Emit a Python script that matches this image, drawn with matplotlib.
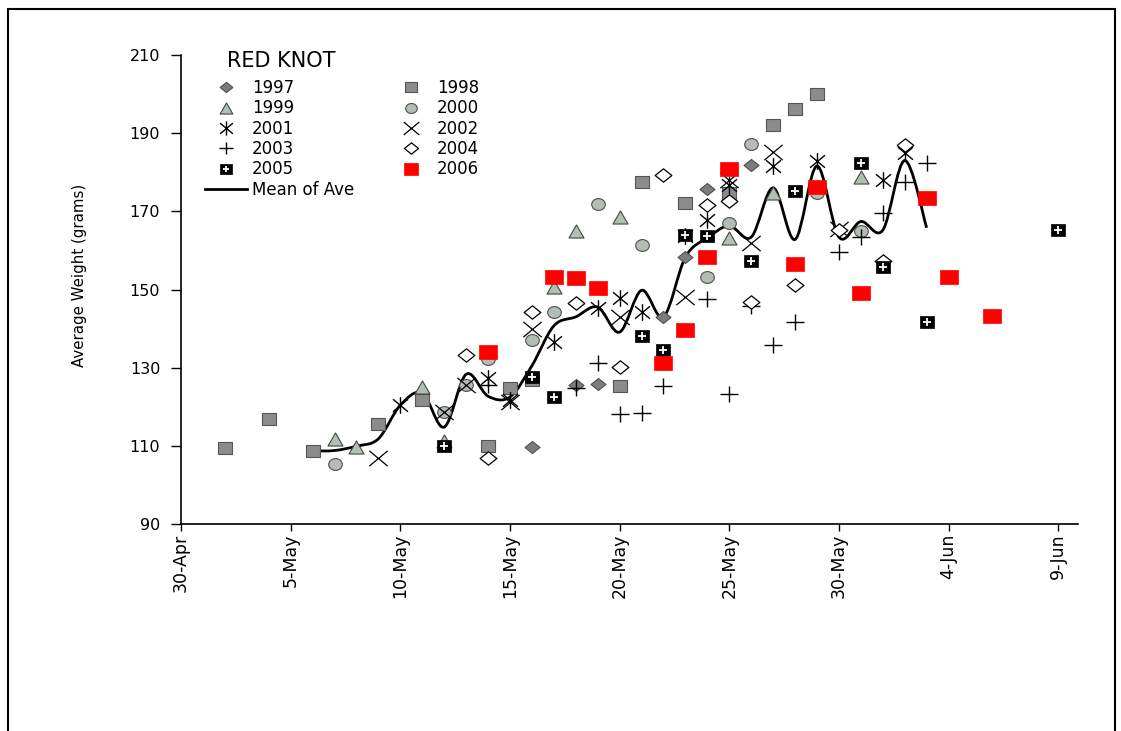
import numpy as np
import matplotlib
matplotlib.use("Agg")
import matplotlib.pyplot as plt
from matplotlib.path import Path
from matplotlib.patches import Rectangle, PathPatch
from matplotlib.legend_handler import HandlerTuple
from matplotlib.lines import Line2D

plt.rcParams['font.family'] = ['DejaVu Sans']

# ---- data: x = days after 30-Apr, y = average weight (grams) ----
day_1997 = [16, 18, 19, 22, 23, 24, 26]
wt_1997 = [109.7, 125.6, 125.7, 143.0, 158.3, 175.6, 181.9]

day_1998 = [2, 4, 6, 9, 11, 14, 15, 16, 20, 21, 23, 25, 27, 28, 29]
wt_1998 = [109.5, 116.9, 108.8, 115.6, 121.8, 110.0, 124.9, 126.8, 125.3, 177.5,
           172.1, 174.8, 192.1, 196.2, 200.0]

day_1999 = [7, 8, 11, 12, 17, 18, 20, 25, 27, 31]
wt_1999 = [111.7, 109.8, 125.1, 111.3, 150.6, 165.0, 168.6, 163.2, 174.8, 178.7]

day_2000 = [7, 12, 13, 14, 16, 17, 19, 21, 24, 25, 26, 29, 31]
wt_2000 = [105.4, 118.7, 125.6, 132.3, 137.0, 144.3, 171.9, 161.4, 153.2, 166.9,
           187.2, 174.8, 165.0]

day_2001 = [10, 14, 15, 17, 19, 20, 21, 23, 24, 25, 27, 29, 32, 33]
wt_2001 = [120.4, 127.4, 121.8, 136.5, 145.3, 147.9, 144.3, 163.6, 167.8, 176.7,
           181.5, 183.0, 178.1, 185.0]

day_2002 = [9, 12, 13, 15, 16, 20, 23, 25, 26, 27, 30]
wt_2002 = [106.9, 118.7, 125.6, 121.1, 139.8, 143.0, 148.1, 178.0, 161.9, 185.2, 165.5]

day_2003 = [14, 18, 19, 20, 21, 22, 24, 25, 26, 27, 28, 30, 31, 32, 33, 34]
wt_2003 = [125.6, 124.9, 131.1, 118.2, 118.3, 125.4, 147.6, 123.3, 145.8, 135.8,
           141.7, 159.6, 163.4, 169.7, 177.6, 182.4]

day_2004 = [13, 14, 16, 18, 20, 22, 24, 25, 26, 28, 30, 32, 33]
wt_2004 = [133.3, 107.0, 144.3, 146.6, 130.2, 179.2, 171.6, 172.6, 146.7, 151.2,
           165.2, 157.2, 187.0]

day_2005 = [12, 16, 17, 21, 22, 23, 24, 26, 28, 31, 32, 34, 40]
wt_2005 = [110.0, 127.7, 122.4, 138.2, 134.5, 163.9, 163.8, 157.3, 175.1, 182.4,
           155.8, 141.7, 165.2]

day_2006 = [14, 17, 18, 19, 22, 23, 24, 25, 28, 29, 31, 34, 35, 37]
wt_2006 = [134.0, 153.2, 152.9, 150.4, 131.1, 139.6, 158.3, 180.8, 156.6, 176.1,
           149.1, 173.3, 153.2, 143.2]

mean_days = list(range(6, 35))
mean_wt = [108.7, 108.8, 109.9, 111.8, 120.4, 123.5, 114.8, 128.3, 122.7, 122.5,
           130.5, 140.7, 143.0, 145.5, 139.1, 149.8, 143.0, 158.3, 163.2, 166.3,
           163.4, 176.0, 162.8, 181.6, 163.4, 167.4, 165.2, 183.0, 165.8]

tick_days = [0, 5, 10, 15, 20, 25, 30, 35, 40]
tick_labels = ['30-Apr', '5-May', '10-May', '15-May', '20-May', '25-May',
               '30-May', '4-Jun', '9-Jun']
y_ticks = [90, 110, 130, 150, 170, 190, 210]

# ---- marker shapes (slightly wider than tall, as in the original) ----
M, L, C = Path.MOVETO, Path.LINETO, Path.CLOSEPOLY

def poly(pts):
    v = np.array(list(pts) + [pts[0]], float)
    return Path(v, [M] + [L] * (len(pts) - 1) + [C])

def segs(pairs):
    v, c = [], []
    for a, b in pairs:
        v += [a, b]
        c += [M, L]
    return Path(np.array(v, float), c)

mk_diamond = poly([(0, 1), (1.25, 0), (0, -1), (-1.25, 0)])
mk_square = lambda r: poly([(-r, -1), (r, -1), (r, 1), (-r, 1)])
mk_tri = poly([(0, 1), (-1.15, -1), (1.15, -1)])
uc = Path.unit_circle()
mk_ell = Path(uc.vertices * np.array([1.15, 1.0]), uc.codes)
mk_ast = segs([((0, -1), (0, 1)), ((-0.9, -0.75), (0.9, 0.75)), ((-0.9, 0.75), (0.9, -0.75))])
mk_x = segs([((-1.2, -1), (1.2, 1)), ((-1.2, 1), (1.2, -1))])
mk_plus = segs([((-1.15, 0), (1.15, 0)), ((0, -1), (0, 1))])

fig = plt.figure(figsize=(11.21, 7.31), dpi=100)
ax = fig.add_axes([181 / 1121, 1 - 524 / 731, (1078 - 181) / 1121, (524 - 55) / 731])

# ---- mean line (smoothed through the means, drawn as Bezier path) ----
P = np.column_stack([mean_days, mean_wt]).astype(float)
Pp = np.vstack([P[0], P, P[-1]])
verts = [P[0]]
codes = [Path.MOVETO]
for i in range(1, len(Pp) - 2):
    p0, p1, p2, p3 = Pp[i - 1], Pp[i], Pp[i + 1], Pp[i + 2]
    verts += [p1 + (p2 - p0) / 6.0, p2 - (p3 - p1) / 6.0, p2]
    codes += [Path.CURVE4] * 3
ax.add_patch(PathPatch(Path(np.array(verts), codes), fill=False, edgecolor='black',
                       lw=2.0, zorder=2, capstyle='butt'))
h_mean = Line2D([], [], color='black', lw=2.0)

def series(x, y, marker, ms, fc, ec, mew=0.8):
    h, = ax.plot(x, y, linestyle='none', marker=marker, markersize=ms,
                 markerfacecolor=fc, markeredgecolor=ec, markeredgewidth=mew, zorder=3)
    return h

h97 = series(day_1997, wt_1997, mk_diamond, 10.8, '#7c7c7c', '#505050')
h98 = series(day_1998, wt_1998, mk_square(1.25), 10.6, '#8c8c8c', '#555555')
h99 = series(day_1999, wt_1999, mk_tri, 10.8, '#b2c0b2', '#454545')
h00 = series(day_2000, wt_2000, mk_ell, 9.8, '#b3bdb3', '#505050')
h01 = series(day_2001, wt_2001, mk_ast, 12.0, 'none', 'black', 1.0)
h02 = series(day_2002, wt_2002, mk_x, 13.2, 'none', 'black', 0.9)
h03 = series(day_2003, wt_2003, mk_plus, 12.5, 'none', 'black', 1.0)
h04 = series(day_2004, wt_2004, mk_diamond, 12.0, 'white', 'black', 0.9)
h05a = series(day_2005, wt_2005, mk_square(1.14), 9.6, 'black', 'black', 0.5)
h05b, = ax.plot(day_2005, wt_2005, linestyle='none', marker='+', markersize=5.2,
                markeredgecolor='white', markeredgewidth=1.3, zorder=3)
h06 = series(day_2006, wt_2006, mk_square(1.18), 12.7, '#ff0000', '#ff0000', 0.5)

# ---- axes ----
ax.set_xlim(0, 40.9)
ax.set_ylim(90, 210)
ax.set_xticks(tick_days)
ax.set_xticklabels(tick_labels, rotation=90, fontsize=12.5)
ax.set_yticks(y_ticks)
ax.set_yticklabels([str(v) for v in y_ticks], fontsize=11.5)
ax.tick_params(axis='x', direction='out', length=5, width=1, pad=2)
ax.tick_params(axis='y', direction='out', length=7, width=1, pad=8)
for s in ['top', 'right']:
    ax.spines[s].set_visible(False)
for s in ['left', 'bottom']:
    ax.spines[s].set_linewidth(1.2)
ax.set_ylabel('Average Weight (grams)', fontsize=10.8)
ax.yaxis.set_label_coords(-0.105, 0.531)

# ---- legend ----
handles = [h97, h99, h01, h03, (h05a, h05b), h_mean, h98, h00, h02, h04, h06]
labels = ['1997', '1999', '2001', '2003', '2005', 'Mean of Ave',
          '1998', '2000', '2002', '2004', '2006']
ax.legend(handles, labels, ncol=2, loc='upper left',
          bbox_to_anchor=(205 / 1121, 1 - 79 / 731), bbox_transform=fig.transFigure,
          frameon=False, fontsize=12, handlelength=2.5, handletextpad=0.3,
          columnspacing=2.2, labelspacing=0.14, borderpad=0, borderaxespad=0,
          markerscale=0.85, numpoints=1,
          handler_map={tuple: HandlerTuple(ndivide=1)})
fig.text(227 / 1121, 1 - 61 / 731, 'RED KNOT', fontsize=15, ha='left', va='center')

# ---- outer frame ----
fig.patches.append(Rectangle((8 / 1121, -0.05), (1115 - 8) / 1121, 1.05 - 9 / 731,
                             transform=fig.transFigure, fill=False,
                             edgecolor='black', lw=1.5))

fig.savefig('out.png', dpi=100)
